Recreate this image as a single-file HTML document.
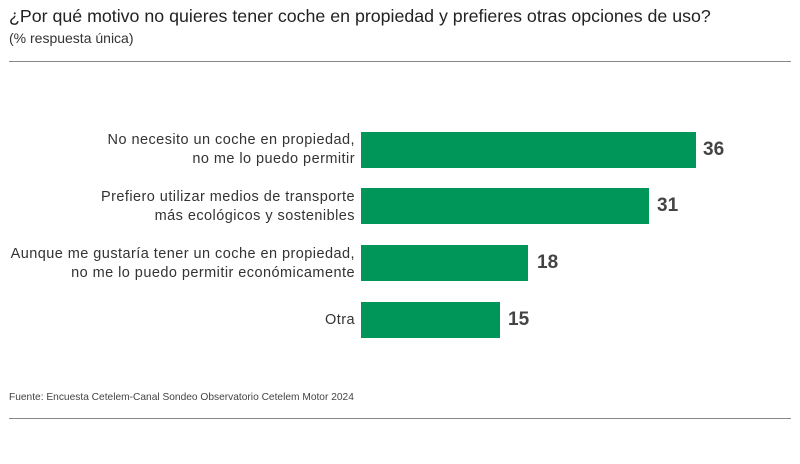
<!DOCTYPE html>
<html><head><meta charset="utf-8"><style>
body{margin:0;width:800px;height:464px;background:#fff;font-family:"Liberation Sans",sans-serif;position:relative;overflow:hidden;color:#333}
.t{position:absolute;left:9px;top:6px;font-size:17.8px;color:#222}
.s{position:absolute;left:9px;top:30px;font-size:14px;color:#333}
.hr{position:absolute;left:9px;width:782px;height:1px;background:#888}
.bar{position:absolute;left:361px;height:36px;background:#00965a}
.lab{position:absolute;right:445px;text-align:right;font-size:14.5px;line-height:19px;color:#333;letter-spacing:0.45px;white-space:nowrap}
.v{position:absolute;font-size:19px;font-weight:bold;color:#444}
.src{position:absolute;left:9px;top:392px;font-size:10.2px;color:#444}
</style></head><body>
<div class="t">¿Por qué motivo no quieres tener coche en propiedad y prefieres otras opciones de uso?</div>
<div class="s">(% respuesta única)</div>
<div class="hr" style="top:61px"></div>
<div class="lab" style="top:131px">No necesito un coche en propiedad,<br>no me lo puedo permitir</div>
<div class="bar" style="top:132px;width:335px"></div><div class="v" style="left:703px;top:139px">36</div>
<div class="lab" style="top:188px">Prefiero utilizar medios de transporte<br>más ecológicos y sostenibles</div>
<div class="bar" style="top:188px;width:288px"></div><div class="v" style="left:657px;top:195px">31</div>
<div class="lab" style="top:245px">Aunque me gustaría tener un coche en propiedad,<br>no me lo puedo permitir económicamente</div>
<div class="bar" style="top:245px;width:167px"></div><div class="v" style="left:537px;top:252px">18</div>
<div class="lab" style="top:311px">Otra</div>
<div class="bar" style="top:302px;width:139px"></div><div class="v" style="left:508px;top:309px">15</div>
<div class="src">Fuente: Encuesta Cetelem-Canal Sondeo Observatorio Cetelem Motor 2024</div>
<div class="hr" style="top:418px"></div>
</body></html>
